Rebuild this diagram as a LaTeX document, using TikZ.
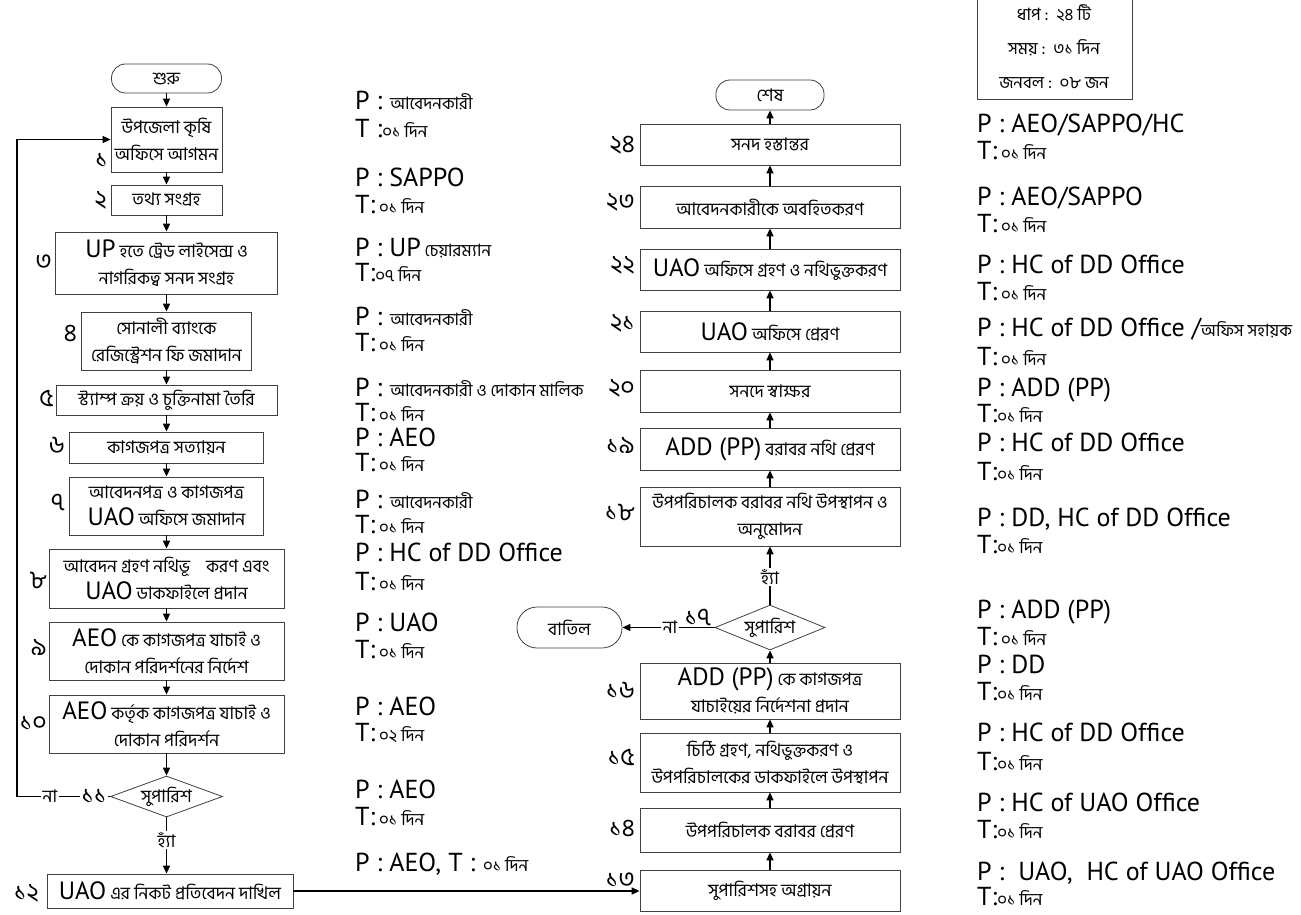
\documentclass[tikz,border=0pt]{standalone}
\usepackage{fontspec}
\setmainfont[Script=Bengali]{Hind Siliguri}
\newfontfamily\en{PT Sans}
\usetikzlibrary{arrows.meta, shapes.geometric}

\newcommand{\bnbox}{\rmfamily\fontsize{17.5}{27}\selectfont}
\newcommand{\enbig}{\en\fontsize{25}{27}\selectfont}
\newcommand{\enP}{\en\fontsize{26}{28}\selectfont}
\newcommand{\bnP}{\rmfamily\fontsize{17}{19}\selectfont}
\newcommand{\stepfont}{\rmfamily\fontsize{25}{27}\selectfont}

\begin{document}
\begin{tikzpicture}[x=1pt, y=-1pt,
  box/.style={draw=black!75, line width=0.8pt, fill=white, align=center, inner sep=1pt, font=\bnbox},
  term/.style={box, rounded corners=14pt},
  decision/.style={diamond, aspect=2.5, draw=black!75, line width=0.8pt, inner sep=0pt, font=\bnbox},
  flow/.style={-{Triangle[length=8pt,width=7pt]}, line width=1.5pt},
  stepno/.style={anchor=east, inner sep=1pt, font=\stepfont},
  resp/.style={anchor=base west, inner sep=0pt, font=\bnP},
  answer/.style={fill=white, inner sep=1.5pt, font=\bnbox}]
    \useasboundingbox (0,0) rectangle (1301,915);

    % Summary box (top right)
    \node[draw=black!75, line width=0.8pt, minimum width=155, minimum height=120, anchor=south west] (info) at (977,100) {};
    \node[font=\bnP] (info1) at (1054,13) {ধাপ :\ \ ২৪ টি};
    \node[font=\bnP] (info2) at (1054,48) {সময় :\ \ ৩১ দিন};
    \node[font=\bnP] (info3) at (1054,83) {জনবল :\ \ ০৮ জন};

    % Left column: steps 1 - 12 (top to bottom)
    \node[term, minimum width=110, minimum height=29] (start) at (166.5,78.5) {শুরু};
    \node[box, minimum width=111, minimum height=65] (b1) at (166.5,139.5) {উপজেলা কৃষি\\অফিসে আগমন};
    \node[box, minimum width=111, minimum height=30] (b2) at (166.5,200) {তথ্য সংগ্রহ};
    \node[box, minimum width=222, minimum height=62] (b3) at (166.5,263) {{\enbig UP} হতে ট্রেড লাইসেন্স ও\\নাগরিকত্ব সনদ সংগ্রহ};
    \node[box, minimum width=170, minimum height=58] (b4) at (166.5,341) {সোনালী ব্যাংকে\\রেজিস্ট্রেশন ফি জমাদান};
    \node[box, minimum width=221, minimum height=30] (b5) at (166.5,400) {স্ট্যাম্প ক্রয় ও চুক্তিনামা তৈরি};
    \node[box, minimum width=194, minimum height=31] (b6) at (166.5,447.5) {কাগজপত্র সত্যায়ন};
    \node[box, minimum width=194, minimum height=58] (b7) at (166.5,506) {আবেদনপত্র ও কাগজপত্র\\{\enbig UAO} অফিসে জমাদান};
    \node[box, minimum width=235, minimum height=59] (b8) at (166.5,578.5) {আবেদন গ্রহণ নথিভূ\hspace{12pt} করণ এবং\\{\enbig UAO} ডাকফাইলে প্রদান};
    \node[box, minimum width=235, minimum height=58] (b9) at (166.5,651) {{\enbig AEO} কে কাগজপত্র যাচাই ও\\দোকান পরিদর্শনের নির্দেশ};
    \node[box, minimum width=235, minimum height=58] (b10) at (166.5,724) {{\enbig AEO} কর্তৃক কাগজপত্র যাচাই ও\\দোকান পরিদর্শন};
    \node[decision, minimum width=112, minimum height=41] (d11) at (166.5,796.5) {সুপারিশ};
    \node[box, minimum width=246, minimum height=34] (b12) at (170,891) {{\enbig UAO} এর নিকট প্রতিবেদন দাখিল};

    % Right column: steps 13 - 24 (bottom to top)
    \node[box, minimum width=260, minimum height=41] (b13) at (770,890.5) {সুপারিশসহ অগ্রায়ন};
    \node[box, minimum width=260, minimum height=44] (b14) at (770,830) {উপপরিচালক বরাবর প্রেরণ};
    \node[box, minimum width=260, minimum height=59] (b15) at (770,762.5) {চিঠি গ্রহণ, নথিভুক্তকরণ ও\\উপপরিচালকের ডাকফাইলে উপস্থাপন};
    \node[box, minimum width=260, minimum height=56] (b16) at (770,691) {{\enbig ADD (PP)} কে কাগজপত্র\\যাচাইয়ের নির্দেশনা প্রদান};
    \node[decision, minimum width=110, minimum height=45] (d17) at (770,627.5) {সুপারিশ};
    \node[term, rounded corners=20pt, minimum width=105, minimum height=41] (cancel) at (569.5,627.5) {বাতিল};
    \node[box, minimum width=260, minimum height=59] (b18) at (770,516.5) {উপপরিচালক বরাবর নথি উপস্থাপন ও\\অনুমোদন};
    \node[box, minimum width=260, minimum height=42] (b19) at (770,449) {{\enbig ADD (PP)} বরাবর নথি প্রেরণ};
    \node[box, minimum width=260, minimum height=42] (b20) at (770,391) {সনদে স্বাক্ষর};
    \node[box, minimum width=260, minimum height=41] (b21) at (770,331.5) {{\enbig UAO} অফিসে প্রেরণ};
    \node[box, minimum width=260, minimum height=41] (b22) at (770,269.5) {{\enbig UAO} অফিসে গ্রহণ ও নথিভুক্তকরণ};
    \node[box, minimum width=260, minimum height=42] (b23) at (770,207) {আবেদনকারীকে অবহিতকরণ};
    \node[box, minimum width=260, minimum height=41] (b24) at (770,144.5) {সনদ হস্তান্তর};
    \node[term, minimum width=108, minimum height=30] (finish) at (770,95) {শেষ};

    % Step numbers
    \node[stepno] (n1) at (109,160) {১};
    \node[stepno] (n2) at (108,200) {২};
    \node[stepno] (n3) at (53,262) {৩};
    \node[stepno] (n4) at (78,333) {৪};
    \node[stepno] (n5) at (55,398) {৫};
    \node[stepno] (n6) at (66,445) {৬};
    \node[stepno] (n7) at (66,502) {৭};
    \node[stepno] (n8) at (48,580) {৮};
    \node[stepno] (n9) at (48,647) {৯};
    \node[stepno] (n10) at (48,723) {১০};
    \node[stepno] (n12) at (40,893) {১২};
    \node[stepno] (n24) at (636,145) {২৪};
    \node[stepno] (n23) at (636,202) {২৩};
    \node[stepno] (n22) at (636,265) {২২};
    \node[stepno] (n21) at (636,323) {২১};
    \node[stepno] (n20) at (636,388) {২০};
    \node[stepno] (n19) at (636,445) {১৯};
    \node[stepno] (n18) at (636,512) {১৮};
    \node[stepno] (n16) at (636,690) {১৬};
    \node[stepno] (n15) at (636,757) {১৫};
    \node[stepno] (n14) at (636,828) {১৪};

    % Flow down the left column
    \draw[flow] (start.south) -- (b1.north);
    \draw[flow] (b1.south) -- (b2.north);
    \draw[flow] (b2.south) -- (b3.north);
    \draw[flow] (b3.south) -- (b4.north);
    \draw[flow] (b4.south) -- (b5.north);
    \draw[flow] (b5.south) -- (b6.north);
    \draw[flow] (b6.south) -- (b7.north);
    \draw[flow] (b7.south) -- (b8.north);
    \draw[flow] (b8.south) -- (b9.north);
    \draw[flow] (b9.south) -- (b10.north);
    \draw[flow] (b10.south) -- (d11.north);
    \draw[flow] (d11.south) -- (d11.south |- b12.north);
    % No: back to step 1
    \coordinate (loop) at (17,796.5);
    \draw[flow] (d11.west) -- (loop) |- (b1.west);
    \node[answer] (no11) at (50,796.5) {না};
    \node[answer, font=\stepfont] (n11) at (94,796.5) {১১};
    \node[answer] (yes11) at (166.5,840) {হ্যাঁ};

    % Across to the right column
    \draw[flow] (b12.east) -- (b12.east -| b13.west);
    \node[stepno, anchor=south east] (n13) at (636,889) {১৩};

    % Flow up the right column
    \draw[flow] (b13.north) -- (b14.south);
    \draw[flow] (b14.north) -- (b15.south);
    \draw[flow] (b15.north) -- (b16.south);
    \draw[flow] (b16.north) -- (d17.south);
    \draw[flow] (d17.north) -- (b18.south);
    \draw[flow] (b18.north) -- (b19.south);
    \draw[flow] (b19.north) -- (b20.south);
    \draw[flow] (b20.north) -- (b21.south);
    \draw[flow] (b21.north) -- (b22.south);
    \draw[flow] (b22.north) -- (b23.south);
    \draw[flow] (b23.north) -- (b24.south);
    \draw[flow] (b24.north) -- (finish.south);
    \node[answer] (yes17) at (770,577) {হ্যাঁ};
    % No: cancelled
    \draw[flow] (d17.west) -- (cancel.east);
    \node[answer] (no17) at (670,627.5) {না};
    \node[stepno, anchor=south] (n17) at (698,627) {১৭};

    % Person / time, left list
    \node[resp] (p1) at (355,110) {{\enP P :}\ \ আবেদনকারী};
    \node[resp] (t1) at (355,138) {{\enP T :}০১ দিন};
    \node[resp] (p2) at (355,186) {{\enP P : SAPPO}};
    \node[resp] (t2) at (355,213) {{\enP T:} ০১ দিন};
    \node[resp] (p3) at (355,256) {{\enP P : UP} চেয়ারম্যান};
    \node[resp] (t3) at (355,281) {{\enP T:}০৭ দিন};
    \node[resp] (p4) at (355,325) {{\enP P :}\ \ আবেদনকারী};
    \node[resp] (t4) at (355,351) {{\enP T:} ০১ দিন};
    \node[resp] (p5) at (355,396) {{\enP P :}\ \ আবেদনকারী ও দোকান মালিক};
    \node[resp] (t5) at (355,421) {{\enP T:} ০১ দিন};
    \node[resp] (p6) at (355,446) {{\enP P : AEO}};
    \node[resp] (t6) at (355,471) {{\enP T:} ০১ দিন};
    \node[resp] (p7) at (355,508) {{\enP P :}\ \ আবেদনকারী};
    \node[resp] (t7) at (355,533) {{\enP T:} ০১ দিন};
    \node[resp] (p8) at (355,561) {{\enP P :\ HC of DD Office}};
    \node[resp] (t8) at (355,590) {{\enP T:} ০১ দিন};
    \node[resp] (p9) at (355,631) {{\enP P : UAO}};
    \node[resp] (t9) at (355,658) {{\enP T:} ০১ দিন};
    \node[resp] (p10) at (355,715) {{\enP P : AEO}};
    \node[resp] (t10) at (355,741) {{\enP T:} ০২ দিন};
    \node[resp] (p11) at (355,798) {{\enP P : AEO}};
    \node[resp] (t11) at (355,825) {{\enP T:} ০১ দিন};
    \node[resp] (p12) at (355,871) {{\enP P : AEO, T :}\ \ ০১ দিন};

    % Person / time, right list
    \node[resp] (p24) at (977,133) {{\enP P : AEO/SAPPO/HC}};
    \node[resp] (t24) at (977,160) {{\enP T:} ০১ দিন};
    \node[resp] (p23) at (977,205) {{\enP P : AEO/SAPPO}};
    \node[resp] (t23) at (977,232) {{\enP T:} ০১ দিন};
    \node[resp] (p22) at (977,273) {{\enP P :\ HC of DD Office}};
    \node[resp] (t22) at (977,300) {{\enP T:} ০১ দিন};
    \node[resp] (p21) at (977,336) {{\enP P : HC of DD Office /}অফিস সহায়ক};
    \node[resp] (t21) at (977,365) {{\enP T:} ০১ দিন};
    \node[resp] (p20) at (977,396) {{\enP P : ADD (PP)}};
    \node[resp] (t20) at (977,422) {{\enP T:}০১ দিন};
    \node[resp] (p19) at (977,451) {{\enP P : HC of DD Office}};
    \node[resp] (t19) at (977,480) {{\enP T:}০১ দিন};
    \node[resp] (p18) at (977,526) {{\enP P : DD, HC of DD Office}};
    \node[resp] (t18) at (977,553) {{\enP T:}০১ দিন};
    \node[resp] (p17) at (977,618) {{\enP P : ADD (PP)}};
    \node[resp] (t17) at (977,645) {{\enP T:} ০১ দিন};
    \node[resp] (p16) at (977,673) {{\enP P : DD}};
    \node[resp] (t16) at (977,700) {{\enP T:}০১ দিন};
    \node[resp] (p15) at (977,741) {{\enP P : HC of DD Office}};
    \node[resp] (t15) at (977,770) {{\enP T:}০১ দিন};
    \node[resp] (p14) at (977,811) {{\enP P : HC of UAO Office}};
    \node[resp] (t14) at (977,838) {{\enP T:}০১ দিন};
    \node[resp] (p13) at (977,880) {{\enP P :\ \ UAO,\ \ HC of UAO Office}};
    \node[resp] (t13) at (977,905) {{\enP T:}০১ দিন};

\end{tikzpicture}
\end{document}
